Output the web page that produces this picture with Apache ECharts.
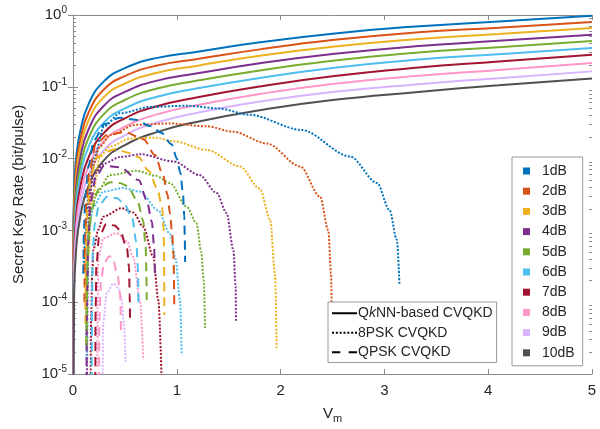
<!DOCTYPE html>
<html><head><meta charset="utf-8">
<script src="https://cdn.jsdelivr.net/npm/echarts@6/dist/echarts.min.js"></script>
<style>html,body{margin:0;padding:0;background:#fff}#c{width:600px;height:429px}</style>
</head><body><div id="c"></div>
<script>
// ---- categories ----
const lossLabels = ['1dB','2dB','3dB','4dB','5dB','6dB','7dB','8dB','9dB','10dB'];
const lossColors = ['#0072BD','#D95319','#EDB120','#7E2F8E','#77AC30','#4DBEEE','#A2142F','#FF96C8','#D9B3FF','#505050'];
const schemeLabels = ['QkNN-based CVQKD','8PSK CVQKD','QPSK CVQKD'];
const xTicks = [0,1,2,3,4,5];
const yMantissas = [2,3,4,5,6,7,8,9];
const yDecades = [-5,-4,-3,-2,-1];

// ---- QkNN-based CVQKD (solid), common Vm grid ----
const vmSolid = [0.001, 0.01, 0.03, 0.07, 0.15, 0.3, 0.5, 0.8, 1.2, 1.8, 2.5, 3.3, 4.1, 5];
const qknn1  = [6.31e-4, 3.16e-3, 1.0e-2, 2.40e-2, 5.75e-2, 0.120, 0.182, 0.251, 0.308, 0.417, 0.550, 0.692, 0.813, 0.977];
const qknn2  = [3.89e-4, 2.22e-3, 7.36e-3, 1.80e-2, 4.38e-2, 9.23e-2, 0.141, 0.196, 0.244, 0.332, 0.447, 0.570, 0.667, 0.800];
const qknn3  = [2.24e-4, 1.61e-3, 5.57e-3, 1.39e-2, 3.40e-2, 7.24e-2, 0.111, 0.156, 0.197, 0.270, 0.361, 0.460, 0.545, 0.661];
const qknn4  = [9.12e-5, 1.12e-3, 4.06e-3, 1.03e-2, 2.56e-2, 5.50e-2, 8.49e-2, 0.121, 0.154, 0.213, 0.286, 0.367, 0.437, 0.532];
const qknn5  = [2.29e-5, 7.83e-4, 2.99e-3, 7.71e-3, 1.94e-2, 4.20e-2, 6.55e-2, 9.38e-2, 0.122, 0.169, 0.230, 0.298, 0.356, 0.435];
const qknn6  = [5.0e-6, 5.43e-4, 2.17e-3, 5.73e-3, 1.46e-2, 3.19e-2, 5.0e-2, 7.23e-2, 9.53e-2, 0.133, 0.183, 0.238, 0.284, 0.347];
const qknn7  = [3.16e-6, 3.52e-4, 1.49e-3, 4.03e-3, 1.04e-2, 2.30e-2, 3.64e-2, 5.33e-2, 7.14e-2, 0.101, 0.140, 0.184, 0.225, 0.280];
const qknn8  = [2.0e-6, 2.44e-4, 1.08e-3, 2.99e-3, 7.80e-3, 1.75e-2, 2.78e-2, 4.10e-2, 5.58e-2, 7.94e-2, 0.109, 0.141, 0.172, 0.214];
const qknn9  = [1.26e-6, 1.68e-4, 7.85e-4, 2.20e-3, 5.82e-3, 1.32e-2, 2.11e-2, 3.15e-2, 4.36e-2, 6.24e-2, 8.47e-2, 0.108, 0.132, 0.164];
const qknn10 = [7.9e-7, 1.09e-4, 5.40e-4, 1.55e-3, 4.16e-3, 9.51e-3, 1.54e-2, 2.32e-2, 3.27e-2, 4.72e-2, 6.53e-2, 8.41e-2, 0.105, 0.131];

// ---- 8PSK CVQKD (dotted), [Vm, K] ----
const psk8_1 = [[0.1,2.51e-4],[0.12,1.0e-3],[0.15,3.16e-3],[0.2,1.0e-2],[0.3,2.82e-2],[0.45,4.27e-2],[0.75,5.25e-2],[1.1,5.45e-2],[1.4,5.0e-2],[1.7,4.07e-2],[2.2,2.51e-2],[2.67,1.07e-2],[2.93,4.57e-3],[3.05,1.91e-3],[3.12,7.41e-4],[3.145,1.74e-4]];
const psk8_2 = [[0.12,7.94e-5],[0.14,6.31e-4],[0.16,2.51e-3],[0.19,7.76e-3],[0.26,1.48e-2],[0.36,2.14e-2],[0.6,2.95e-2],[0.93,3.09e-2],[1.29,2.82e-2],[1.54,2.37e-2],[1.87,1.62e-2],[2.19,7.76e-3],[2.38,2.95e-3],[2.46,1.0e-3],[2.486,2.51e-4],[2.495,3.0e-5]];
const psk8_3 = [[0.13,5.01e-5],[0.15,5.01e-4],[0.18,2.51e-3],[0.26,1.07e-2],[0.36,1.48e-2],[0.55,1.91e-2],[0.8,1.95e-2],[0.97,1.74e-2],[1.29,1.32e-2],[1.61,7.76e-3],[1.8,3.80e-3],[1.9,1.41e-3],[1.946,2.51e-4],[1.962,2.29e-5]];
const psk8_4 = [[0.135,8e-6],[0.14,1.58e-4],[0.148,1.0e-3],[0.16,3.16e-3],[0.2,6.03e-3],[0.3,8.51e-3],[0.45,1.05e-2],[0.65,1.15e-2],[0.97,9.12e-3],[1.22,5.89e-3],[1.385,3.31e-3],[1.48,1.74e-3],[1.545,5.37e-4],[1.567,1.66e-4],[1.57,5.37e-5]];
const psk8_5 = [[0.125,2.51e-5],[0.13,2.51e-4],[0.14,7.94e-4],[0.164,1.55e-3],[0.228,3.31e-3],[0.356,5.89e-3],[0.613,6.76e-3],[0.8,5.75e-3],[0.934,4.57e-3],[1.095,2.14e-3],[1.19,1.26e-3],[1.235,5.01e-4],[1.26,2.0e-4],[1.272,4.37e-5]];
const psk8_6 = [[0.13,1.58e-5],[0.135,1.58e-4],[0.148,9.12e-4],[0.196,2.14e-3],[0.292,3.47e-3],[0.485,3.89e-3],[0.645,3.47e-3],[0.82,1.91e-3],[0.934,8.91e-4],[0.99,3.98e-4],[1.03,1.07e-4],[1.047,1.82e-5]];
const psk8_7 = [[0.17,8e-6],[0.175,6.31e-5],[0.185,2.51e-4],[0.196,5.37e-4],[0.244,1.02e-3],[0.292,1.55e-3],[0.469,2.04e-3],[0.58,1.78e-3],[0.677,1.12e-3],[0.774,4.27e-4],[0.822,1.07e-4],[0.854,8e-6]];
const psk8_8 = [[0.235,1.26e-5],[0.238,1.0e-4],[0.244,4.27e-4],[0.292,7.76e-4],[0.42,9.12e-4],[0.52,7.08e-4],[0.58,4.27e-4],[0.645,1.07e-4],[0.677,1.58e-5]];
const psk8_9 = [[0.285,8e-6],[0.29,5.01e-5],[0.324,1.32e-4],[0.389,1.82e-4],[0.44,1.58e-4],[0.469,1.07e-4],[0.49,5.01e-5],[0.507,1.48e-5]];

// ---- QPSK CVQKD (dashed), [Vm, K] ----
const qpsk_1 = [[0.1,2.51e-4],[0.105,1.0e-3],[0.12,3.16e-3],[0.15,7.94e-3],[0.2,1.78e-2],[0.3,3.02e-2],[0.45,3.72e-2],[0.6,3.47e-2],[0.75,2.82e-2],[0.85,2.29e-2],[0.95,1.58e-2],[1.0,1.0e-2],[1.035,6.31e-3],[1.06,3.16e-3],[1.072,1.58e-3],[1.077,7.94e-4],[1.08,3.63e-4]];
const qpsk_2 = [[0.11,1.0e-4],[0.115,6.31e-4],[0.13,2.51e-3],[0.16,7.08e-3],[0.22,1.58e-2],[0.33,2.14e-2],[0.5,2.34e-2],[0.68,1.86e-2],[0.79,1.12e-2],[0.867,5.89e-3],[0.91,3.16e-3],[0.934,1.74e-3],[0.955,9.12e-4],[0.968,4.57e-4],[0.976,8.32e-5]];
const qpsk_3 = [[0.12,5.01e-5],[0.125,5.01e-4],[0.14,2.0e-3],[0.17,5.62e-3],[0.23,1.05e-2],[0.4,1.35e-2],[0.55,1.20e-2],[0.63,1.05e-2],[0.73,6.76e-3],[0.81,3.89e-3],[0.86,2.04e-3],[0.872,1.07e-3],[0.877,5.62e-4],[0.88,6.61e-5]];
const qpsk_4 = [[0.13,8e-6],[0.135,1.0e-4],[0.145,6.31e-4],[0.17,2.51e-3],[0.22,5.62e-3],[0.3,7.94e-3],[0.45,7.59e-3],[0.635,5.01e-3],[0.71,2.63e-3],[0.76,1.32e-3],[0.78,6.31e-4],[0.79,2.19e-4]];
const qpsk_5 = [[0.13,2.51e-5],[0.14,3.16e-4],[0.155,1.0e-3],[0.18,2.04e-3],[0.25,3.80e-3],[0.36,4.68e-3],[0.45,4.57e-3],[0.52,4.17e-3],[0.62,2.63e-3],[0.675,1.38e-3],[0.7,5.89e-4],[0.707,2.51e-4],[0.71,1.07e-4]];
const qpsk_6 = [[0.18,8e-6],[0.183,1.0e-4],[0.19,5.01e-4],[0.21,1.26e-3],[0.25,2.24e-3],[0.33,2.95e-3],[0.42,2.82e-3],[0.49,2.40e-3],[0.57,1.48e-3],[0.61,6.92e-4],[0.625,3.09e-4],[0.63,9.55e-5]];
const qpsk_7 = [[0.215,8e-6],[0.218,7.94e-5],[0.225,3.16e-4],[0.25,7.94e-4],[0.32,1.23e-3],[0.4,1.17e-3],[0.45,1.02e-3],[0.52,5.62e-4],[0.54,3.09e-4],[0.546,1.26e-4],[0.549,6.03e-5]];
const qpsk_8 = [[0.25,8e-6],[0.255,6.31e-5],[0.27,2.0e-4],[0.3,3.55e-4],[0.35,4.37e-4],[0.38,4.17e-4],[0.43,2.40e-4],[0.455,1.26e-4],[0.462,3.89e-5]];

const qknnAll = [qknn1,qknn2,qknn3,qknn4,qknn5,qknn6,qknn7,qknn8,qknn9,qknn10];
const psk8All = [psk8_1,psk8_2,psk8_3,psk8_4,psk8_5,psk8_6,psk8_7,psk8_8,psk8_9];
const qpskAll = [qpsk_1,qpsk_2,qpsk_3,qpsk_4,qpsk_5,qpsk_6,qpsk_7,qpsk_8];

const FONT = 'Liberation Sans, Arial, Helvetica, sans-serif';
const TXT = '#262626';
const AX = '#8a8a8a';

const series = [];
qknnAll.forEach((ys, i) => {
  series.push({
    name: lossLabels[i], type: 'line', symbol: 'none', showSymbol: false,
    data: vmSolid.map((x, j) => [x, ys[j]]),
    smooth: 0.5, clip: true, z: 2,
    itemStyle: { color: lossColors[i] },
    lineStyle: { color: lossColors[i], width: 2 }
  });
});
psk8All.forEach((d, i) => {
  series.push({
    name: lossLabels[i] + ' 8PSK', type: 'line', symbol: 'none', showSymbol: false,
    data: d, smooth: 0.3, smoothMonotone: 'x', clip: true, z: 3,
    itemStyle: { color: lossColors[i] },
    lineStyle: { color: lossColors[i], width: 2, type: [2, 1.6] }
  });
});
qpskAll.forEach((d, i) => {
  series.push({
    name: lossLabels[i] + ' QPSK', type: 'line', symbol: 'none', showSymbol: false,
    data: d, smooth: 0.3, smoothMonotone: 'x', clip: true, z: 4,
    itemStyle: { color: lossColors[i] },
    lineStyle: { color: lossColors[i], width: 2, type: [9, 6] }
  });
});
schemeLabels.forEach((n, i) => {
  series.push({
    name: n, type: 'line', symbol: 'none', showSymbol: false, data: [],
    itemStyle: { color: '#000' },
    lineStyle: { color: '#000', width: 2 }
  });
});

// legend glyphs for the three line styles (solid / dotted / dashed), 25 x 2 units
const schemeIcons = [
  'path://M0,0h25v2h-25z',
  'path://M0,0h2v2h-2zM3.83,0h2v2h-2zM7.67,0h2v2h-2zM11.5,0h2v2h-2zM15.33,0h2v2h-2zM19.17,0h2v2h-2zM23,0h2v2h-2z',
  'path://M0,0h8.3v2h-8.3zM16.7,0h8.3v2h-8.3z'
];

const minorVals = [];
yDecades.forEach(d => yMantissas.forEach(m => minorVals.push(m * Math.pow(10, d))));

const yBase = { type: 'log', min: 1e-5, max: 1, logBase: 10, interval: 1, splitLine: { show: false } };
const supLabel = v => {
  const e = Math.round(Math.log10(v));
  return '{a|10}{b|' + e + '}';
};

const option = {
  animation: false,
  textStyle: { fontFamily: FONT },
  grid: { left: 73, right: 8, top: 15, bottom: 55, containLabel: false },
  xAxis: [
    { type: 'value', min: 0, max: 5, interval: 1, position: 'bottom',
      name: '{v|V}{m|m}', nameLocation: 'middle', nameGap: 30,
      nameTextStyle: { rich: { v: { fontSize: 15, color: TXT, fontFamily: FONT }, m: { fontSize: 11, color: TXT, fontFamily: FONT, padding: [9, 0, 0, 0] } } },
      axisLine: { lineStyle: { color: AX, width: 1 } },
      axisTick: { inside: true, length: 5, lineStyle: { color: AX } },
      axisLabel: { fontSize: 15, color: TXT, margin: 9, fontFamily: FONT },
      splitLine: { show: false } },
    { type: 'value', min: 0, max: 5, interval: 1, position: 'top',
      axisLine: { lineStyle: { color: AX, width: 1 } },
      axisTick: { inside: true, length: 5, lineStyle: { color: AX } },
      axisLabel: { show: false }, splitLine: { show: false } }
  ],
  yAxis: [
    Object.assign({}, yBase, {
      position: 'left', name: 'Secret Key Rate (bit/pulse)', nameLocation: 'middle', nameGap: 47,
      nameTextStyle: { fontSize: 15, color: TXT, fontFamily: FONT },
      axisLine: { show: true, lineStyle: { color: AX, width: 1 } },
      axisTick: { inside: true, length: 5, lineStyle: { color: AX } },
      axisLabel: { formatter: supLabel, margin: 6,
        rich: { a: { fontSize: 15, color: TXT, fontFamily: FONT }, b: { fontSize: 10, color: TXT, fontFamily: FONT, padding: [0, 0, 9, 0] } } }
    }),
    Object.assign({}, yBase, {
      position: 'right',
      axisLine: { show: true, lineStyle: { color: AX, width: 1 } },
      axisTick: { inside: true, length: 5, lineStyle: { color: AX } },
      axisLabel: { show: false }
    }),
    Object.assign({}, yBase, {
      position: 'left',
      axisLine: { show: false },
      axisTick: { show: true, inside: true, length: 3, customValues: minorVals, lineStyle: { color: AX } },
      axisLabel: { show: false }
    }),
    Object.assign({}, yBase, {
      position: 'right',
      axisLine: { show: false },
      axisTick: { show: true, inside: true, length: 3, customValues: minorVals, lineStyle: { color: AX } },
      axisLabel: { show: false }
    })
  ],
  legend: [
    { data: lossLabels, orient: 'vertical', left: 512, top: 157, icon: 'rect',
      itemWidth: 7, itemHeight: 7, itemGap: 4.2, selectedMode: false,
      backgroundColor: '#fff', borderColor: '#999', borderWidth: 1, padding: [6, 8, 5, 11],
      textStyle: { fontSize: 14, color: TXT, fontFamily: FONT, lineHeight: 16, padding: [0, 0, 0, 7] } },
    { data: schemeLabels.map((n, i) => ({ name: n, icon: schemeIcons[i] })), orient: 'vertical', left: 328, top: 302,
      itemWidth: 25, itemHeight: 2, itemGap: 3, selectedMode: false, symbolKeepAspect: false,
      backgroundColor: '#fff', borderColor: '#999', borderWidth: 1, padding: [3, 4, 2, 4],
      formatter: n => n === 'QkNN-based CVQKD' ? '{n|Q}{i|k}{n|NN-based CVQKD}' : '{n|' + n + '}',
      textStyle: { fontSize: 14, color: TXT, fontFamily: FONT, lineHeight: 16.5, padding: [0, 0, 0, -4],
        rich: { n: { fontSize: 14, color: TXT, fontFamily: FONT, lineHeight: 16.5 }, i: { fontSize: 14, color: TXT, fontFamily: FONT, fontStyle: 'italic', lineHeight: 16.5 } } } }
  ],
  series: series
};

const chart = echarts.init(document.getElementById('c'), null, { renderer: 'canvas' });
chart.setOption(option);
</script>
</body></html>
